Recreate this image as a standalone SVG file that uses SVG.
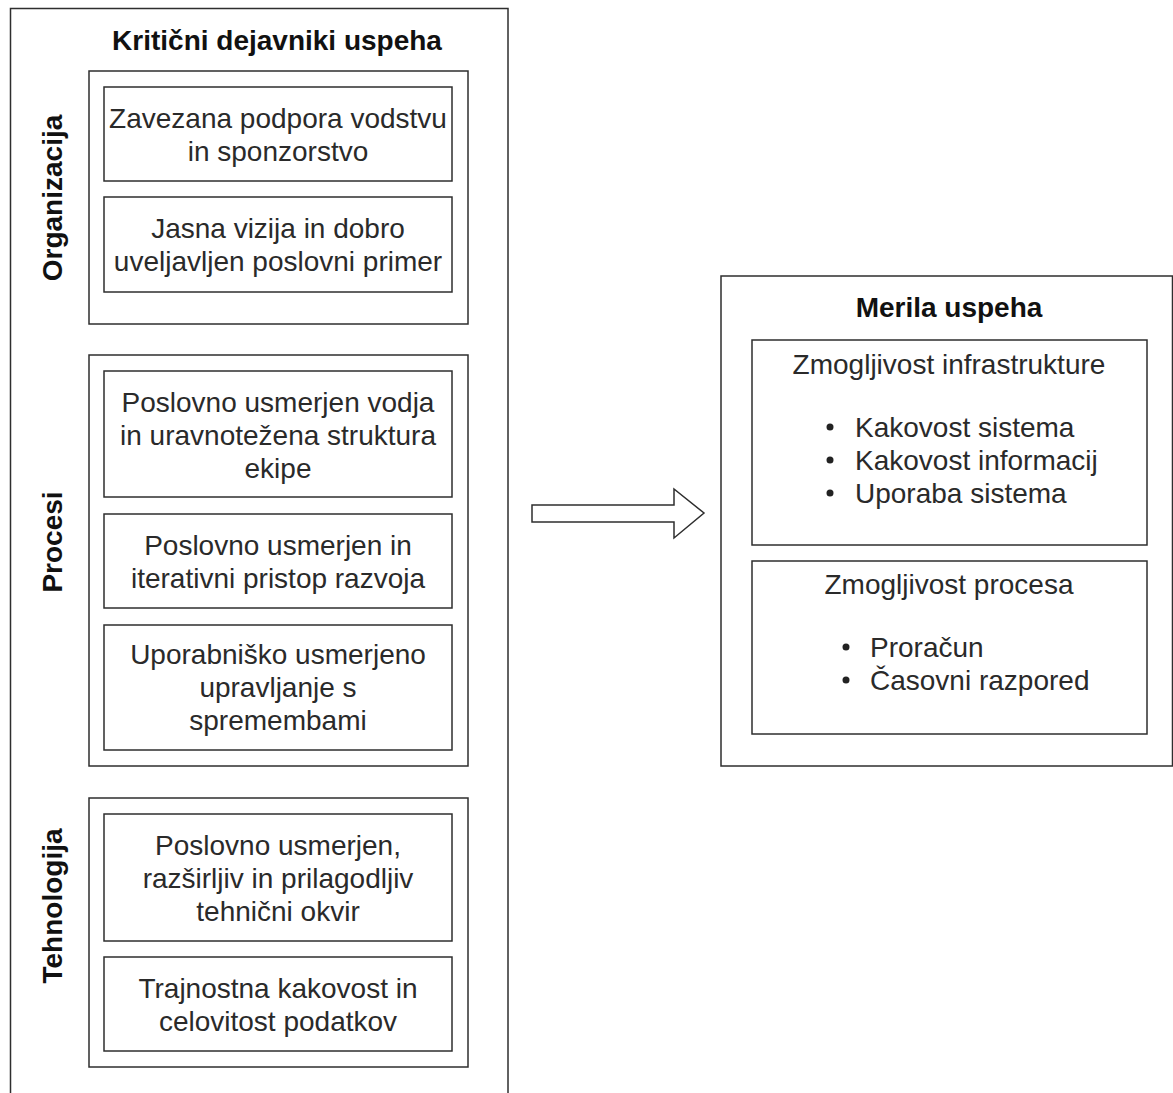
<svg xmlns="http://www.w3.org/2000/svg" width="1173" height="1093" viewBox="0 0 1173 1093">
<style>
.box{fill:#ffffff;stroke:#2e2e2e;stroke-width:1.5}
.t{font-family:"Liberation Sans",Arial,sans-serif;font-size:28px;fill:#2a2a2a;text-anchor:middle}
.b{font-family:"Liberation Sans",Arial,sans-serif;font-size:28px;font-weight:bold;fill:#111111;text-anchor:middle}
.l{font-family:"Liberation Sans",Arial,sans-serif;font-size:28px;fill:#2a2a2a}
.dot{fill:#222222}
</style>
<rect width="1173" height="1093" fill="#ffffff"/>
<g id="kriticni">
<rect class="box" x="10.5" y="8.5" width="497.5" height="1100"/>
<text class="b" x="277" y="50">Kritični dejavniki uspeha</text>
</g>
<g id="organizacija">
<rect class="box" x="89" y="71" width="379" height="253"/>
<text class="b" transform="translate(62,198) rotate(-90)">Organizacija</text>
</g>
<g id="org1">
<rect class="box" x="104" y="87" width="348" height="94"/>
<text class="t" x="278" y="127.5">Zavezana podpora vodstvu</text>
<text class="t" x="278" y="160.5">in sponzorstvo</text>
</g>
<g id="org2">
<rect class="box" x="104" y="197" width="348" height="95"/>
<text class="t" x="278" y="238">Jasna vizija in dobro</text>
<text class="t" x="278" y="271">uveljavljen poslovni primer</text>
</g>
<g id="procesi">
<rect class="box" x="89" y="355" width="379" height="411"/>
<text class="b" transform="translate(62,542) rotate(-90)">Procesi</text>
</g>
<g id="proc1">
<rect class="box" x="104" y="371" width="348" height="126"/>
<text class="t" x="278" y="411.5">Poslovno usmerjen vodja</text>
<text class="t" x="278" y="444.5">in uravnotežena struktura</text>
<text class="t" x="278" y="477.5">ekipe</text>
</g>
<g id="proc2">
<rect class="box" x="104" y="514" width="348" height="94"/>
<text class="t" x="278" y="554.5">Poslovno usmerjen in</text>
<text class="t" x="278" y="587.5">iterativni pristop razvoja</text>
</g>
<g id="proc3">
<rect class="box" x="104" y="625" width="348" height="125"/>
<text class="t" x="278" y="664">Uporabniško usmerjeno</text>
<text class="t" x="278" y="697">upravljanje s</text>
<text class="t" x="278" y="730">spremembami</text>
</g>
<g id="tehnologija">
<rect class="box" x="89" y="798" width="379" height="269"/>
<text class="b" transform="translate(62,906) rotate(-90)">Tehnologija</text>
</g>
<g id="teh1">
<rect class="box" x="104" y="814" width="348" height="127"/>
<text class="t" x="278" y="855">Poslovno usmerjen,</text>
<text class="t" x="278" y="888">razširljiv in prilagodljiv</text>
<text class="t" x="278" y="921">tehnični okvir</text>
</g>
<g id="teh2">
<rect class="box" x="104" y="957" width="348" height="94"/>
<text class="t" x="278" y="997.5">Trajnostna kakovost in</text>
<text class="t" x="278" y="1030.5">celovitost podatkov</text>
</g>
<g id="merila">
<rect class="box" x="721" y="276" width="451.5" height="490"/>
<text class="b" x="949" y="317">Merila uspeha</text>
</g>
<g id="infra">
<rect class="box" x="752" y="340" width="395" height="205"/>
<text class="t" x="949" y="374">Zmogljivost infrastrukture</text>
<circle class="dot" cx="830" cy="427" r="3.5"/>
<text class="l" x="855" y="437">Kakovost sistema</text>
<circle class="dot" cx="830" cy="460" r="3.5"/>
<text class="l" x="855" y="470">Kakovost informacij</text>
<circle class="dot" cx="830" cy="493" r="3.5"/>
<text class="l" x="855" y="503">Uporaba sistema</text>
</g>
<g id="proces">
<rect class="box" x="752" y="561" width="395" height="173"/>
<text class="t" x="949" y="594">Zmogljivost procesa</text>
<circle class="dot" cx="846" cy="647" r="3.5"/>
<text class="l" x="870" y="657">Proračun</text>
<circle class="dot" cx="846" cy="680" r="3.5"/>
<text class="l" x="870" y="690">Časovni razpored</text>
</g>
<g id="connectors">
<path class="box" d="M532,505 H674 V489 L704,513 L674,538 V522 H532 Z"/>
</g>
</svg>
